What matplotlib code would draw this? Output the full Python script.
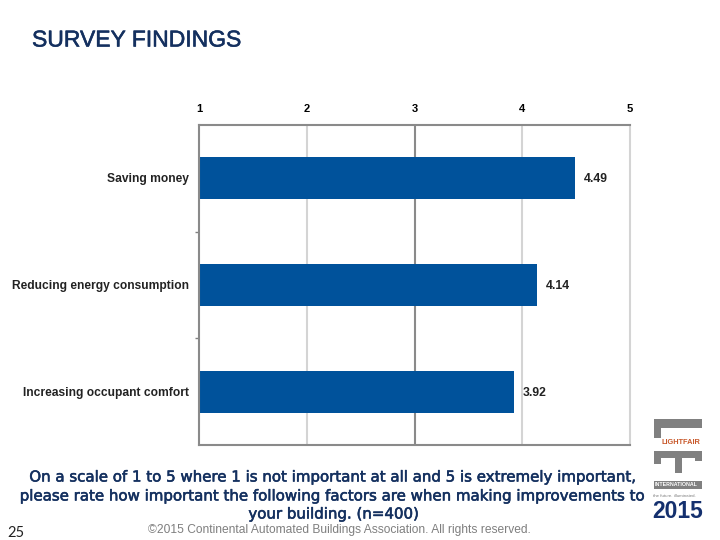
import matplotlib
matplotlib.use('Agg')
import matplotlib.pyplot as plt
import matplotlib.patheffects as pe
from matplotlib.patches import Rectangle

# Data
kategooriad = ['Saving money', 'Reducing energy consumption', 'Increasing occupant comfort']
vaartused = [4.49, 4.14, 3.92]
x_ticks = [1, 2, 3, 4, 5]

W, H = 720, 540
SININE = '#00529B'
TEKST = '#14305F'

plt.rcParams['font.family'] = ['Liberation Sans', 'DejaVu Sans']

fig = plt.figure(figsize=(W / 100, H / 100), dpi=100)

# Axes in pixels
ax = fig.add_axes([199 / W, 1 - 445 / H, (630 - 199) / W, (445 - 125) / H])
ax.set_xlim(1, 5)
ax.set_ylim(len(kategooriad) - 0.5, -0.5)

for t in x_ticks[1:-1]:
    ax.axvline(t, color='#8A8A8A' if t == 3 else '#D4D4D4', lw=1.5, zorder=1)

ax.barh(range(len(kategooriad)), [v - 1 for v in vaartused], left=1, height=0.395,
        color=SININE, zorder=2)

for i, v in enumerate(vaartused):
    ax.annotate(f'{v:.2f}', (v, i), xytext=(9, -1), textcoords='offset pixels',
                va='center', ha='left', fontsize=8.8, fontweight='bold', color='#222222')

ax.xaxis.tick_top()
ax.set_xticks(x_ticks)
ax.set_xticklabels(x_ticks, fontsize=8, fontweight='bold')
ax.tick_params(axis='x', length=0, pad=8)
ax.set_yticks([0.5, 1.5])
ax.set_yticklabels([])
ax.tick_params(axis='y', length=3, width=1, color='#808080')

for side in ['top', 'left', 'bottom']:
    ax.spines[side].set_color('#8A8A8A')
    ax.spines[side].set_linewidth(1.5)
ax.spines['right'].set_color('#D4D4D4')
ax.spines['right'].set_linewidth(1.5)

for i, nimi in enumerate(kategooriad):
    ax.annotate(nimi, (1, i), xytext=(-10, -1), textcoords='offset pixels', va='center',
                ha='right', fontsize=8.65, fontweight='bold', color='#222222')


def tekst(x, y, s, **kw):
    fig.text(x / W, 1 - y / H, s, **kw)


def kast(x0, y0, x1, y1, varv):
    fig.add_artist(Rectangle((x0 / W, 1 - y1 / H), (x1 - x0) / W, (y1 - y0) / H,
                             transform=fig.transFigure, color=varv, lw=0))


paks = [pe.withStroke(linewidth=0.4, foreground=TEKST)]

tekst(32, 40, 'SURVEY FINDINGS', fontsize=16.5, color=TEKST, va='center', path_effects=paks)

jooned = ['On a scale of 1 to 5 where 1 is not important at all and 5 is extremely important,',
          'please rate how important the following factors are when making improvements to',
          'your building. (n=400)']
for y, rida in zip([477, 496, 514], jooned):
    tekst(334, y, rida, fontsize=10.8, family='DejaVu Sans', color=TEKST, ha='center', va='center',
          path_effects=paks)

tekst(339, 530, '©2015 Continental Automated Buildings Association. All rights reserved.',
      fontsize=8.65, color='#7F7F7F', ha='center', va='center')
tekst(7, 533, '25', fontsize=10.5, family='Lato', color='#222222', va='center')

# Logo
HALL = '#808080'
kast(654, 419, 702, 428, HALL)
kast(654, 428, 661, 438, HALL)
kast(654, 451, 702, 458, HALL)
kast(654, 458, 661, 464, HALL)
kast(675, 458, 682, 473, HALL)
kast(695, 458, 702, 461, HALL)
kast(654, 481, 702, 489, HALL)
tekst(662, 442.5, 'LIGHTFAIR', fontsize=5.3, fontweight='bold', color='#C8582A', va='center')
tekst(655, 485, 'INTERNATIONAL', fontsize=3.8, fontweight='bold', color='white', va='center')
tekst(653, 496, 'the future. illuminated.', fontsize=3.2, color='#808080', va='center')
tekst(652, 512, '2015', fontsize=16.5, fontweight='bold', color='#14306E', va='center')

fig.savefig('out.png', dpi=100)
